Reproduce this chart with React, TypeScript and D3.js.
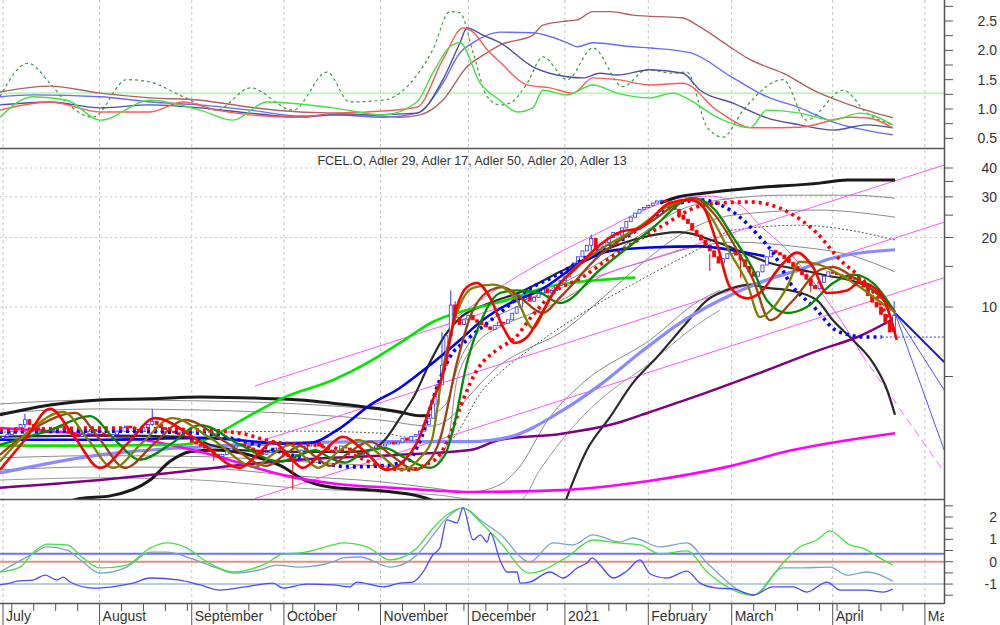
import React, { useMemo } from 'react';
import * as d3 from 'd3';

type P = [number, number];

// ---------- time axis (trading days from 1 Jul 2020) ----------
const HOLIDAYS = ['2020-07-03', '2020-09-07', '2020-11-26', '2020-12-25', '2021-01-01', '2021-01-18', '2021-02-15', '2021-04-02'];
const MONTH_NAMES = ['July', 'August', 'September', 'October', 'November', 'December', '2021', 'February', 'March', 'April', 'May'];

// ---------- daily closes ----------
const closeJul = [2.75, 2.8, 2.9, 3.0, 3.1, 3.25, 3.1, 3.0, 2.95, 2.9, 2.85, 2.9, 3.0, 3.05, 2.95, 2.85, 2.8, 2.75, 2.8, 2.9, 2.95, 2.9];
const closeAug = [2.85, 2.8, 2.75, 2.8, 2.9, 3.0, 3.05, 3.0, 2.95, 2.9, 3.0, 3.1, 3.2, 3.1, 3.0, 2.95, 2.9, 2.85, 2.8, 2.75, 2.7];
const closeSep = [2.6, 2.55, 2.5, 2.45, 2.4, 2.3, 2.25, 2.3, 2.4, 2.45, 2.5, 2.55, 2.5, 2.45, 2.4, 2.35, 2.3, 2.35, 2.4, 2.45, 2.4];
const closeOct = [2.3, 2.25, 2.2, 2.3, 2.4, 2.5, 2.55, 2.6, 2.5, 2.45, 2.4, 2.35, 2.4, 2.5, 2.45, 2.4, 2.35, 2.3, 2.35, 2.4, 2.45, 2.5];
const closeNov = [2.5, 2.55, 2.6, 2.55, 2.6, 2.7, 2.65, 2.75, 2.8, 2.9, 3.1, 3.3, 3.8, 4.6, 5.6, 7.5, 10.2, 9.0, 8.4, 8.8];
const closeDec = [9.2, 8.8, 8.6, 8.4, 8.2, 8.0, 8.3, 8.6, 8.5, 8.8, 9.4, 10.0, 10.8, 11.2, 10.6, 11.0, 11.5, 12.0, 11.5, 11.8, 12.4, 13.0];
const closeJan = [13.5, 14.5, 15.5, 16.5, 17.5, 18.5, 19.8, 17.8, 18.2, 19, 20, 21, 20.5, 22, 23.5, 24.5, 25.5, 26.5, 27];
const closeFeb = [27.5, 28.2, 28.8, 29, 28.5, 27.5, 26.5, 25, 24, 23, 21.5, 20.5, 19.5, 18.5, 17.5, 16.5, 15.5, 16.2, 17];
const closeMar = [17.5, 16.8, 16, 15, 14.2, 13.6, 14.2, 15.2, 16.5, 17.6, 17.2, 16.8, 16.2, 15.6, 15, 14.4, 13.8, 13.2, 12.4, 12, 12.8, 13.6, 14.2];
const closeApr = [14, 13.8, 13.5, 13.6, 13.2, 13.4, 12.8, 12.2, 11.2, 10.5, 10, 9.3, 8.6, 7.8, 9.2];
const closes = [...closeJul, ...closeAug, ...closeSep, ...closeOct, ...closeNov, ...closeDec, ...closeJan, ...closeFeb, ...closeMar, ...closeApr];
const firstOpen = 2.7;
// [day, high, low] for the longer wicks
const wicks: [number, number, number][] = [
  [5, 3.45, 3.0], [34, 3.6, 3.05], [48, 2.4, 2.15], [66, 2.3, 1.62], [100, 7.8, 5.2], [102, 11.8, 9.6],
  [103, 10.6, 8.6], [134, 20.6, 17.5], [161, 17.0, 14.3], [168, 16.5, 13.4], [184, 13.0, 11.6], [203, 10.6, 8.8],
];

// ---------- main panel lines [day, price] ----------
const blackUpperL: P[] = [[-0.7, 3.41], [10.7, 3.76], [22.1, 3.96], [33.5, 4.0], [44.9, 4.08], [56.3, 4.04], [67.7, 3.96], [79, 3.76], [90.4, 3.51], [95, 3.38], [97.3, 3.38]];
const blackMid: P[] = [[-0.7, 2.74], [22.1, 2.77], [42.6, 2.74], [47.2, 2.53], [54, 2.4], [67.7, 2.36], [79, 2.36], [83.6, 2.4], [87, 2.66], [90.4, 3.3], [93.8, 4.16], [97.3, 5.78], [100.7, 7.56], [104.1, 8.96], [110.9, 10.4], [117.8, 11.6], [126.9, 14.2], [136, 17.3], [145.1, 19.9], [154.2, 21.1], [163.3, 18.9], [174.7, 15.5], [186.1, 13.9], [197.5, 12.1], [203.2, 9.5]];
const blackTop: P[] = [[149.7, 28.2], [153.5, 29.9], [159.5, 31.1], [170.9, 32.8], [186.1, 34.4], [192.3, 35.5], [203.2, 35.5]];
const blackLower: P[] = [[13, 1.39], [17.5, 1.48], [24.4, 1.52], [33.5, 1.78], [38, 2.14], [42.6, 2.36], [48.3, 2.4], [52.8, 2.36], [58.5, 2.22], [63.8, 2.03], [67.7, 1.82], [74.5, 1.66], [85.9, 1.6], [95, 1.51], [99.5, 1.42]];
const blackArc: P[] = [[128, 1.42], [133, 2.4], [138.3, 3.34], [143.5, 4.69], [149, 6.07], [154.9, 8.19], [160.4, 10.7], [166.3, 12.1], [170.2, 12.5], [174, 12.1], [179.3, 11.8], [185.4, 10.7], [189, 8.78], [193.6, 7.2], [198.2, 5.73], [201.4, 4.37], [203.2, 3.41]];

const grayA: P[] = [[-0.7, 3.8], [22.1, 3.96], [44.9, 3.92], [67.7, 3.8], [85.9, 3.58], [96.1, 3.37], [100.7, 3.76], [104.1, 5.9], [108.7, 7.95], [117.8, 10.2], [126.9, 12.5], [136, 15.6], [145.1, 20.5], [154.2, 26.3], [163.3, 29.1], [177.7, 30.5], [192.9, 30.5], [203.2, 29.6]];
const grayB: P[] = [[-0.7, 3.48], [22.1, 3.62], [44.9, 3.58], [67.7, 3.44], [85.9, 3.24], [97.3, 3.05], [101.8, 3.3], [106.4, 4.16], [113.2, 5.61], [120, 6.65], [126.9, 7.72], [136, 10.7], [145.1, 15.2], [154.2, 20.5], [166.3, 25.0], [185.4, 26.3], [203.2, 24.5]];
const grayMid: P[] = [[-0.7, 2.87], [22.1, 2.9], [44.9, 2.87], [67.7, 2.9], [85.9, 2.84], [97.3, 2.61], [100.7, 2.58], [109.3, 4.37], [120.7, 6.72], [132.1, 9.42], [147.4, 13.8], [158.8, 18.0], [166.3, 21.5], [181.5, 22.6], [192.9, 21.5], [203.2, 19.5]];
const grayC: P[] = [[-0.7, 2.22], [22.1, 2.27], [44.9, 2.25], [67.7, 2.14], [85.9, 2.05], [97.3, 2.01], [101.4, 2.66], [103.4, 4.83], [108, 6.99], [113.2, 8.19], [120.7, 9.42], [128.5, 11.0], [136, 13.5], [147.4, 16.0], [158.8, 18.4], [166.3, 19.1], [181.5, 18.2], [192.9, 16.8], [203.2, 14.2]];
const grayD: P[] = [[-0.7, 1.97], [22.1, 2.03], [44.9, 2.01], [67.7, 1.85], [85.9, 1.75], [97.3, 1.65], [106.4, 1.58], [113.2, 1.7], [117.1, 1.97], [124.6, 3.34], [132.1, 4.69], [147.4, 7.2], [158.8, 10.7], [163.3, 11.8]];
const grayE: P[] = [[-0.7, 1.78], [22.1, 1.82], [44.9, 1.78], [67.7, 1.64], [85.9, 1.58], [99.5, 1.53], [108.7, 1.46], [117.8, 1.46], [122.3, 1.97], [129.2, 2.93], [136, 3.96], [147.4, 5.72], [156.5, 7.95], [163.3, 9.7]];

const purple: P[] = [[-0.7, 1.65], [22.1, 1.78], [33.5, 1.87], [54, 2.07], [67.7, 2.18], [90.4, 2.29], [106.4, 2.4], [113.2, 2.66], [126.9, 2.82], [140.5, 3.17], [147.4, 3.51], [158.8, 4.16], [172.4, 5.18], [186.1, 6.52], [195.2, 7.49], [203.2, 8.96]];
const lightBlue: P[] = [[-0.7, 1.91], [22.1, 2.29], [44.9, 2.48], [67.7, 2.58], [83.6, 2.61], [106.4, 2.61], [115.5, 2.74], [126.9, 3.51], [136, 4.6], [145.1, 6.33], [154.2, 8.52], [163.3, 10.7], [174, 13.1], [181.5, 14.5], [189, 16.3], [203.2, 17.7]];
const magenta: P[] = [[-0.7, 2.99], [16.4, 2.84], [33.5, 2.63], [44.9, 2.36], [54, 2.11], [63.8, 1.87], [75.2, 1.72], [90.4, 1.64], [106.4, 1.58], [126.9, 1.61], [146.7, 1.76], [164.9, 2.03], [179.9, 2.4], [203.2, 2.84]];
const brightGreen: P[] = [[-0.7, 2.51], [22.1, 2.51], [40.3, 2.53], [46, 2.66], [52.4, 3.08], [58.5, 3.58], [63.8, 4.04], [75.2, 4.83], [82.9, 5.72], [90.4, 6.99], [97.9, 8.61], [105.7, 9.7], [113.2, 10.5], [124.6, 12.3], [136, 13.1], [144, 13.4]];
const blueSolid: P[] = [[-0.7, 2.66], [22.1, 2.66], [44.9, 2.71], [65.4, 2.56], [69.9, 2.58], [76.8, 2.99], [83.6, 3.76], [90.4, 4.46], [97.3, 5.61], [104.1, 7.2], [108.7, 8.61], [115.5, 10.4], [122.3, 11.8], [131.4, 15.4], [138.3, 17.5], [147.4, 18.1], [158.8, 18.3], [165.6, 17.7], [173.5, 16.6]];
const blueDots: P[] = [[-0.7, 2.87], [22.1, 2.9], [44.9, 2.84], [51.7, 2.71], [63.1, 2.36], [69.9, 2.18], [79, 2.03], [85.9, 2.05], [92.7, 2.18], [93.8, 2.36], [95.4, 2.74], [97.9, 3.96], [101.8, 6.07], [105.7, 7.2], [113.2, 9.42], [119.4, 11.8], [125.3, 13.5], [136, 17.7], [142.1, 20.1], [147.4, 23.8], [154.2, 28.2], [158.8, 29.1], [166.3, 25.8], [172.4, 20.1], [175.4, 17.2], [179.3, 12.7], [185.4, 9.7], [189, 8.11], [192.9, 7.56], [196.8, 7.41], [200.2, 7.41]];
const blueDotsExt: P[] = [[200.2, 7.41], [214.4, 7.41]];
const redDots: P[] = [[-0.7, 2.93], [22.1, 2.99], [44.9, 2.93], [54, 2.84], [61.5, 2.61], [74.5, 2.48], [81.3, 2.22], [88.2, 1.99], [92.7, 1.97], [96.1, 2.07], [99.5, 2.29], [102.3, 2.93], [104.8, 3.96], [108, 5.34], [112.5, 6.52], [116.6, 7.34], [120.7, 9.23], [125.3, 11.5], [132.1, 13.5], [137.6, 16.0], [143.5, 18.9], [149.7, 22.2], [158.8, 27.4], [163.3, 28.2], [170.2, 28.5], [179.3, 25.5], [185.4, 20.9], [190.7, 16.0], [195.9, 13.1], [199.1, 11.0], [202.1, 8.52], [203.2, 7.72]];

const waveRed: P[] = [[-0.7, 1.97], [5, 2.66], [10.7, 3.62], [16.4, 2.71], [22.1, 2.01], [28.5, 2.58], [34.6, 3.3], [44.2, 2.66], [54, 2.01], [57.9, 2.29], [61.5, 2.61], [64.9, 2.29], [68.3, 2.01], [72.9, 2.36], [77.4, 2.74], [82.5, 2.36], [87.5, 1.97], [91.6, 2.18], [94.3, 2.58], [97.9, 3.96], [100.2, 5.08], [103.4, 10.0], [105.7, 12.2], [108, 12.7], [110.9, 11.0], [113.9, 8.19], [116.6, 6.99], [119.4, 7.41], [122.3, 9.05], [126.2, 12.2], [130.8, 14.9], [136, 18.6], [140.5, 21.1], [145.1, 22.0], [151.9, 28.2], [156.5, 29.1], [159.5, 27.1], [162.6, 18.9], [165.6, 12.2], [169.5, 10.9], [172.4, 11.5], [177, 14.9], [180.9, 17.2], [184.5, 14.9], [187.7, 11.5], [192.3, 11.8], [195.2, 12.8], [199.8, 11.5], [203.6, 7.2]];
const waveOlive: P[] = [[-0.7, 2.14], [6.2, 2.93], [13.7, 3.51], [19.4, 2.66], [25.1, 2.01], [31.7, 2.58], [38.5, 3.3], [47.8, 2.66], [57.4, 2.03], [61.3, 2.29], [65.4, 2.53], [68.6, 2.25], [71.8, 2.01], [76.3, 2.36], [80.9, 2.66], [85.9, 2.29], [90.9, 1.97], [95, 2.22], [97.7, 2.66], [100.2, 5.34], [103.4, 9.42], [107.1, 12.1], [111.6, 12.5], [117.1, 10.7], [120.7, 8.11], [124.6, 11.0], [129.8, 14.5], [136, 17.7], [145.1, 22.4], [151.9, 27.6], [157.2, 29.1], [161, 25.0], [165.6, 17.2], [169.5, 12.7], [172.4, 9.05], [175.4, 9.9], [178.6, 12.2], [181.5, 15.7], [186.1, 15.2], [190.7, 13.8], [195.2, 12.2], [201.4, 10.0], [203.2, 9.5]];
const waveBrown: P[] = [[-0.7, 2.29], [8.4, 3.08], [16.4, 3.48], [22.1, 2.66], [27.8, 2.01], [34.6, 2.58], [41.5, 3.24], [50.6, 2.61], [60.1, 2.05], [64.2, 2.29], [67.7, 2.5], [71.1, 2.25], [74.5, 2.05], [79, 2.36], [83.6, 2.61], [88.6, 2.27], [93.8, 1.97], [97.3, 2.18], [99.5, 2.66], [103.4, 5.73], [106.4, 9.05], [110.9, 11.8], [113.9, 12.2], [117.8, 11.0], [123, 9.42], [126.9, 11.0], [136, 16.8], [147.4, 23.3], [157.2, 29.6], [162.2, 25.0], [167.2, 17.7], [170.9, 13.1], [174.7, 8.78], [180, 10.7], [186.1, 14.5], [189.1, 14.9], [193.6, 13.5], [198.2, 11.8], [203.2, 9.5]];
const waveGreen: P[] = [[-0.7, 2.53], [10.7, 2.93], [19.8, 3.37], [25.5, 2.66], [31.2, 2.18], [38, 2.53], [44.9, 3.08], [54, 2.53], [63.1, 2.14], [67.7, 2.29], [71.1, 2.4], [74.5, 2.22], [77.9, 2.12], [82.5, 2.36], [87, 2.45], [91.6, 2.22], [97.3, 2.01], [100.7, 2.29], [102.5, 2.93], [105.7, 5.73], [109.3, 9.05], [113.2, 11.5], [117.1, 11.8], [122.3, 11.5], [126.9, 10.4], [136, 14.5], [147.4, 21.5], [157.2, 29.6], [162.2, 26.3], [166.3, 20.1], [170.9, 14.5], [174, 10.7], [178.6, 9.42], [183.1, 10.0], [189.1, 12.7], [193.6, 13.8], [198.2, 12.7], [203.2, 9.5]];

const channelLines: P[][] = [
  [[57.4, 4.55], [214.4, 41.2]],
  [[57.4, 2.58], [214.4, 23.3]],
  [[57.4, 1.48], [214.4, 13.4]],
];
const magentaArc: P[] = [[101.8, 8.61], [108.7, 10.7], [117.8, 13.8], [126.9, 17.3], [136, 21.1], [145.1, 25.8], [154.2, 29.6], [161, 30.2], [167.9, 27.6], [172.4, 22.6], [178.6, 17.7], [183.1, 14.0], [187.7, 10.7], [192.3, 7.95], [195.7, 6.2]];
const magentaArcExt: P[] = [[195.7, 6.2], [214.4, 1.93]];
const projThick: P[] = [[203.2, 9.42], [214.4, 5.78]];
const projThin: P[][] = [[[203.2, 9.42], [214.4, 4.37]], [[203.2, 9.42], [214.4, 2.4]]];

// ---------- upper panel ----------
const topBrown: P[] = [[-0.7, 1.29], [10.7, 1.39], [22.1, 1.27], [33.5, 1.19], [44.9, 1.15], [56.3, 1.03], [67.7, 0.95], [75.2, 0.93], [82.9, 0.9], [90.4, 0.86], [95, 0.9], [100.2, 1.15], [105.7, 1.72], [110.3, 1.96], [113.2, 2.09], [120.7, 2.26], [123, 2.43], [128.5, 2.5], [130.8, 2.52], [134.4, 2.66], [138.3, 2.66], [143.5, 2.6], [154.9, 2.55], [158.1, 2.43], [165, 2.09], [170.2, 1.84], [177.7, 1.61], [185.4, 1.29], [192.9, 1.07], [202.7, 0.85]];
const topBlue: P[] = [[-0.7, 1.21], [6.8, 1.24], [22.1, 1.21], [33.5, 1.12], [44.9, 1.07], [56.3, 0.98], [67.7, 0.88], [75.2, 0.9], [86.6, 0.86], [94.3, 0.93], [100.2, 1.44], [104.1, 1.96], [107.1, 2.13], [113.2, 2.31], [120.7, 2.3], [128.5, 2.13], [130.8, 2.06], [134.4, 2.13], [143.5, 2.06], [147.4, 2.04], [156.5, 1.96], [166.3, 1.53], [174, 1.21], [181.5, 1.02], [189, 0.78], [202.7, 0.56]];
const topSlate: P[] = [[-0.7, 1.07], [10.7, 1.12], [22.1, 1.02], [33.5, 1.07], [44.9, 1.02], [56.3, 0.93], [67.7, 0.86], [75.2, 0.9], [82.9, 0.9], [94.3, 0.93], [100.2, 1.5], [104.1, 2.13], [105.7, 2.38], [109.3, 2.26], [113.2, 2.13], [120.7, 1.72], [128.5, 1.55], [132.1, 1.53], [136, 1.61], [139.9, 1.58], [147.4, 1.67], [154.9, 1.61], [158.8, 1.32], [166.3, 1.1], [174, 0.85], [181.5, 0.73], [189, 0.64], [196.8, 0.73], [202.7, 0.68]];
const topRed: P[] = [[-0.7, 0.98], [10.7, 1.12], [22.1, 0.95], [33.5, 0.95], [41, 1.12], [48.7, 0.98], [56.3, 0.9], [67.7, 0.86], [75.2, 0.93], [82.9, 0.95], [94.3, 1.03], [100.2, 1.84], [104.8, 2.38], [107.1, 2.31], [110.3, 2.01], [113.2, 1.8], [119.4, 1.41], [124.6, 1.36], [129.8, 1.27], [134.4, 1.53], [139.9, 1.5], [147.4, 1.41], [154.9, 1.44], [162.6, 0.98], [170.9, 0.68], [181.5, 0.69], [192.9, 0.86], [196.8, 0.85], [202.7, 0.68]];
const topGreen: P[] = [[-0.7, 0.86], [6.8, 1.21], [14.6, 1.15], [22.1, 0.81], [33.5, 1.15], [44.9, 0.98], [52.4, 0.81], [60.1, 1.12], [75.2, 1.02], [86.6, 0.9], [94.3, 1.12], [97.9, 1.61], [101.8, 2.06], [104.1, 2.13], [108.7, 1.44], [113.2, 1.15], [117.1, 0.95], [120.7, 1.02], [123, 1.32], [128.5, 1.24], [134.4, 1.41], [139.9, 1.27], [147.4, 1.19], [152.6, 1.27], [156.5, 1.15], [162.6, 0.86], [170.2, 0.68], [174, 0.98], [181.5, 0.93], [189, 0.81], [195.2, 0.93], [202.7, 0.73]];
const topGreenDot: P[] = [[-0.7, 1.21], [5.7, 1.78], [10.7, 1.44], [14.6, 1.1], [20.5, 0.86], [28.2, 1.5], [33.5, 1.46], [41, 1.21], [48.7, 0.98], [56.3, 1.36], [66.1, 0.98], [73.8, 1.63], [79, 1.12], [86.6, 1.15], [94.3, 1.58], [97.9, 2.01], [101.8, 2.66], [104.1, 2.64], [107.1, 1.96], [110.3, 1.21], [113.2, 1.07], [115.5, 1.1], [119.4, 1.44], [123, 1.89], [128.5, 1.5], [134.4, 2.04], [141.2, 1.38], [146.7, 1.67], [152.6, 1.61], [155.8, 1.63], [160.4, 0.69], [164, 0.52], [168.6, 0.98], [177.7, 1.5], [183.1, 0.81], [191.4, 1.32], [196.8, 0.93], [202.7, 0.73]];
const TOP_LEVEL = 1.27;
const topTicks = [0.5, 0.75, 1, 1.25, 1.5, 1.75, 2, 2.25, 2.5, 2.75];
const topLabels = [0.5, 1, 1.5, 2, 2.5];

// ---------- lower panel ----------
const botGreen: P[] = [[-0.7, -0.46], [3.9, -0.24], [6.8, 0.39], [10, 0.79], [14.6, 0.75], [18.2, 0.17], [22.1, -0.28], [28.2, -0.15], [33.5, 0.61], [37.4, 0.84], [41.9, 0.61], [46.5, -0.01], [52.4, -0.46], [60.1, -0.06], [63.8, 0.35], [67.7, 0.39], [75.2, 0.75], [77.4, 0.84], [82.9, 0.66], [88.2, 0.08], [94.3, 0.61], [98, 1.51], [101.1, 2.09], [104.8, 2.41], [108.7, 1.78], [113.2, 0.88], [120, -0.51], [128.5, 0.21], [134.4, 0.97], [139.9, 0.84], [145.1, 0.75], [149.7, 0.35], [155.8, 0.48], [160.4, -0.46], [170.9, -1.5], [177.7, -0.06], [181.5, 0.66], [185.4, 0.97], [188.4, 1.38], [192.9, 0.75], [195.9, 0.61], [200.5, 0.08], [202.7, -0.15]];
const botSteel: P[] = [[-0.7, -0.46], [6.8, 0.35], [10, 0.66], [14.6, 0.52], [18.2, -0.01], [22.1, -0.51], [28.2, -0.24], [33.5, 0.43], [37.4, 0.43], [41.9, 0.21], [48.7, -0.28], [52.4, -0.51], [58.5, -0.37], [62.4, -0.15], [67.7, -0.24], [75.2, -0.01], [77.4, 0.17], [81.3, 0.21], [88.2, -0.24], [94.3, 0.3], [98, 1.2], [101.1, 1.96], [104.8, 2.41], [109.3, 1.78], [113.2, 1.24], [120, -0.01], [125.3, 0.84], [129.8, 0.75], [134.4, 1.2], [140.5, 0.88], [143.5, 1.06], [149.7, 0.66], [155.8, 0.84], [160.4, -0.06], [170.9, -1.49], [177.7, -0.28], [181.5, -0.28], [188.4, -0.24], [192.2, -0.6], [196.8, -0.46], [202.7, -0.87]];
const botBlue: P[] = [[-0.7, -1.04], [1.6, -0.96], [3.2, -0.87], [6.8, -0.82], [9.6, -0.6], [12.3, -0.82], [13.7, -0.69], [15.3, -0.91], [20.5, -1.18], [26, -1.09], [29.6, -0.96], [33.5, -0.73], [40.3, -0.82], [44.9, -1.04], [49.4, -1.27], [56.3, -1.09], [61.5, -0.96], [63.8, -1.18], [69.2, -1.0], [75.2, -1.04], [79, -1.13], [80.6, -0.91], [86.6, -1.13], [90.4, -0.96], [93.4, -0.91], [95.7, -0.46], [97.9, 0.3], [99.5, 0.61], [101.1, 1.87], [103.4, 1.74], [104.8, 2.41], [107.1, 0.97], [108.7, 1.2], [110.3, 0.88], [111, 1.29], [113.2, 0.08], [114.8, -0.46], [117.1, -0.46], [117.8, -0.96], [120, -0.91], [124.6, -0.46], [127.6, -0.73], [130.8, -0.28], [133, -0.06], [134.2, 0.17], [136, -0.15], [139, -0.73], [142.1, -0.42], [145.1, 0.08], [147.4, -0.55], [151.2, -0.73], [155.8, -0.42], [158.8, -0.96], [162.6, -1.18], [166.3, -1.22], [170.9, -1.49], [175.4, -1.13], [180, -1.13], [183.1, -1.36], [187.7, -0.91], [190.7, -1.27], [196.8, -1.27], [200.5, -1.36], [202.7, -1.22]];
const BOT_LEVELS = [
  { v: 0.36, color: '#6f6fff' },
  { v: 0, color: '#e0907c' },
  { v: -1, color: '#b8cde0' },
];
const botTicks = [-1.5, -1, -0.5, 0, 0.5, 1, 1.5, 2, 2.5];
const botLabels = [-1, 0, 1, 2];

const mainTicks = [5, 10, 15, 20, 25, 30, 35, 40];
const mainLabels = [10, 20, 30, 40];

const RIGHT = 944;
const TITLE = 'FCEL.O, Adler 29, Adler 17, Adler 50, Adler 20, Adler 13';

function buildDays(): Date[] {
  const hol = new Set(HOLIDAYS);
  const out: Date[] = [];
  for (let t = Date.UTC(2020, 6, 1); t <= Date.UTC(2021, 4, 20); t += 86400000) {
    const d = new Date(t);
    const wd = d.getUTCDay();
    if (wd === 0 || wd === 6) continue;
    if (hol.has(d.toISOString().slice(0, 10))) continue;
    out.push(d);
  }
  return out;
}

export default function App() {
  const days = useMemo(buildDays, []);

  const x = d3.scaleLinear().domain([0, 214.36]).range([3, RIGHT]);
  const yTop = d3.scaleLinear().domain([1, 2.5]).range([109, 21]);
  const yMain = d3.scaleLog().domain([10, 40]).range([307, 168]);
  const yBot = d3.scaleLinear().domain([0, 2]).range([561.7, 517]);

  const mk = (y: (v: number) => number, curve: d3.CurveFactory = d3.curveMonotoneX) =>
    d3.line<P>().x(d => x(d[0])).y(d => y(d[1])).curve(curve);
  const lTop = mk(yTop);
  const lMain = mk(yMain);
  const lMainStraight = mk(yMain, d3.curveLinear);
  const lBot = mk(yBot);

  const monthStarts: number[] = [];
  const weekStarts: number[] = [];
  days.forEach((d, i) => {
    if (i === 0 || d.getUTCMonth() !== days[i - 1].getUTCMonth()) monthStarts.push(i);
    else if (d.getUTCDay() <= days[i - 1].getUTCDay()) weekStarts.push(i);
  });
  const months = monthStarts.slice(0, MONTH_NAMES.length);

  const candles = closes.map((c, i) => {
    const o = i === 0 ? firstOpen : closes[i - 1];
    const w = wicks.find(k => k[0] === i);
    return { i, o, c, hi: w ? w[1] : Math.max(o, c), lo: w ? w[2] : Math.min(o, c) };
  });

  const font = '"Liberation Sans", Arial, Helvetica, sans-serif';
  const grid = '#c6c6c6';

  const S = (d: string | null, stroke: string, width: number, dash?: string, key?: string) => (
    <path key={key} d={d || ''} fill="none" stroke={stroke} strokeWidth={width} strokeDasharray={dash} strokeLinejoin="round" />
  );

  return (
    <div style={{ position: 'absolute', left: 0, top: 0, width: 1000, height: 625, background: '#fff' }}>
      <svg width={1000} height={625} style={{ display: 'block', fontFamily: font }}>
        <defs>
          <clipPath id="cTop"><rect x={0} y={0} width={RIGHT} height={148} /></clipPath>
          <clipPath id="cMain"><rect x={0} y={149} width={RIGHT} height={350} /></clipPath>
          <clipPath id="cBot"><rect x={0} y={500} width={RIGHT} height={103} /></clipPath>
          <clipPath id="cAxis"><rect x={0} y={603} width={RIGHT} height={22} /></clipPath>
        </defs>

        {/* vertical month grid */}
        {months.map(i => (
          <line key={'g' + i} x1={x(i)} x2={x(i)} y1={0} y2={603} stroke={grid} strokeDasharray="3 3" />
        ))}
        {/* horizontal grid main */}
        {mainLabels.map(v => (
          <line key={'h' + v} x1={0} x2={RIGHT} y1={yMain(v)} y2={yMain(v)} stroke={grid} strokeDasharray="2 3" />
        ))}

        {/* ---------- upper panel ---------- */}
        <g clipPath="url(#cTop)">
          <line x1={0} x2={RIGHT} y1={yTop(TOP_LEVEL)} y2={yTop(TOP_LEVEL)} stroke="#bff5bf" strokeWidth={2} />
          {S(lTop(topGreenDot), '#3c9c3c', 1.2, '3 3')}
          {S(lTop(topBrown), '#b06262', 1.4)}
          {S(lTop(topBlue), '#6a6aff', 1.4)}
          {S(lTop(topSlate), '#50509e', 1.4)}
          {S(lTop(topRed), '#ff5a5a', 1.4)}
          {S(lTop(topGreen), '#44e044', 1.4)}
        </g>

        {/* ---------- main panel ---------- */}
        <g clipPath="url(#cMain)">
          {S(lMain(grayA), '#8a8a8a', 1)}
          {S(lMain(grayB), '#8a8a8a', 1)}
          {S(lMain(grayMid), '#555', 1, '2 2')}
          {S(lMain(grayC), '#8a8a8a', 1)}
          {S(lMain(grayD), '#8a8a8a', 1)}
          {S(lMain(grayE), '#9a9a9a', 1)}
          {channelLines.map((c, k) => S(lMainStraight(c), '#ff55ff', 1, undefined, 'ch' + k))}
          {S(lMain(magentaArc), '#ff55ff', 1)}
          {S(lMainStraight(magentaArcExt), '#ff66ff', 1, '8 5')}
          {S(lMain(blackLower), '#1a1a1a', 3)}
          {S(lMain(blackUpperL), '#1a1a1a', 3)}
          {S(lMain(blackTop), '#1a1a1a', 3)}
          {S(lMain(blackArc), '#2a2a2a', 2.2)}
          {S(lMain(purple), '#800080', 2.5)}
          {S(lMain(lightBlue), '#8a8aff', 3.2)}
          {S(lMain(magenta), '#ff00ff', 2.6)}
          {S(lMain(blackMid), '#2a2a2a', 2.2)}
          {S(lMain(brightGreen), '#00e600', 2.6)}

          {/* candles */}
          {candles.map(k => {
            const up = k.c >= k.o;
            const col = up ? '#3030ff' : '#ff0000';
            const yT = yMain(Math.max(k.o, k.c));
            const yB = yMain(Math.min(k.o, k.c));
            return (
              <g key={'k' + k.i}>
                <line x1={x(k.i)} x2={x(k.i)} y1={yMain(k.hi)} y2={yMain(k.lo)} stroke={col} strokeWidth={1} />
                <rect x={x(k.i) - 1.5} y={yT} width={3} height={Math.max(1, yB - yT)} fill={up ? '#fff' : col} stroke={col} strokeWidth={0.8} />
              </g>
            );
          })}

          {S(lMain(blueSolid), '#0000ee', 2.6)}
          {S(lMain(blueDots), '#0000ff', 3.6, '3 4')}
          {S(lMainStraight(blueDotsExt), '#3333ff', 1, '2 2')}
          {S(lMain(redDots), '#ff0000', 3.6, '3 4')}
          {S(lMain(waveGreen), '#008a00', 2.3)}
          {S(lMain(waveBrown), '#a0400c', 2.3)}
          {S(lMain(waveOlive), '#808000', 2.3)}
          {S(lMain(waveRed), '#ff0000', 2.6)}
          {S(lMainStraight(projThick), '#1818e0', 2)}
          {projThin.map((p, k) => S(lMainStraight(p), '#5050ff', 1, undefined, 'pt' + k))}
        </g>
        <text x={472} y={165} textAnchor="middle" fontSize={12.5} fill="#333">{TITLE}</text>

        {/* ---------- lower panel ---------- */}
        <g clipPath="url(#cBot)">
          {BOT_LEVELS.map(l => (
            <line key={'bl' + l.v} x1={0} x2={RIGHT} y1={yBot(l.v)} y2={yBot(l.v)} stroke={l.color} strokeWidth={2} />
          ))}
          {S(lBot(botSteel), '#7aa4c4', 1.3)}
          {S(lBot(botGreen), '#44e044', 1.3)}
          {S(lBot(botBlue), '#4a4aff', 1.3)}
        </g>

        {/* frames */}
        <line x1={0} x2={RIGHT} y1={148.5} y2={148.5} stroke="#555" strokeWidth={1.5} />
        <line x1={0} x2={RIGHT} y1={499.5} y2={499.5} stroke="#555" strokeWidth={1.5} />
        <line x1={0} x2={RIGHT} y1={603.5} y2={603.5} stroke="#555" strokeWidth={1.5} />
        <line x1={RIGHT + 0.5} x2={RIGHT + 0.5} y1={0} y2={604} stroke="#555" strokeWidth={1.5} />

        {/* right axes */}
        {topTicks.map(v => (
          <line key={'tt' + v} x1={RIGHT} x2={RIGHT + 9} y1={yTop(v)} y2={yTop(v)} stroke="#555" />
        ))}
        {topLabels.map(v => (
          <text key={'tl' + v} x={997} y={yTop(v) + 5} textAnchor="end" fontSize={14} fill="#333">{v.toFixed(1)}</text>
        ))}
        {mainTicks.map(v => (
          <line key={'mt' + v} x1={RIGHT} x2={RIGHT + 9} y1={yMain(v)} y2={yMain(v)} stroke="#555" />
        ))}
        {mainLabels.map(v => (
          <text key={'ml' + v} x={997} y={yMain(v) + 5} textAnchor="end" fontSize={14} fill="#333">{v}</text>
        ))}
        {botTicks.map(v => (
          <line key={'bt' + v} x1={RIGHT} x2={RIGHT + 9} y1={yBot(v)} y2={yBot(v)} stroke="#555" />
        ))}
        {botLabels.map(v => (
          <text key={'bl2' + v} x={997} y={yBot(v) + 5} textAnchor="end" fontSize={14} fill="#333">{v}</text>
        ))}

        {/* time axis */}
        <g clipPath="url(#cAxis)">
          {weekStarts.map(i => (
            <line key={'w' + i} x1={x(i)} x2={x(i)} y1={604} y2={611} stroke="#555" />
          ))}
          {months.map((i, k) => (
            <g key={'m' + i}>
              <line x1={x(i)} x2={x(i)} y1={604} y2={625} stroke="#555" />
              <text x={x(i) + 3} y={621} fontSize={14} fill="#333">{MONTH_NAMES[k]}</text>
            </g>
          ))}
        </g>
      </svg>
    </div>
  );
}
